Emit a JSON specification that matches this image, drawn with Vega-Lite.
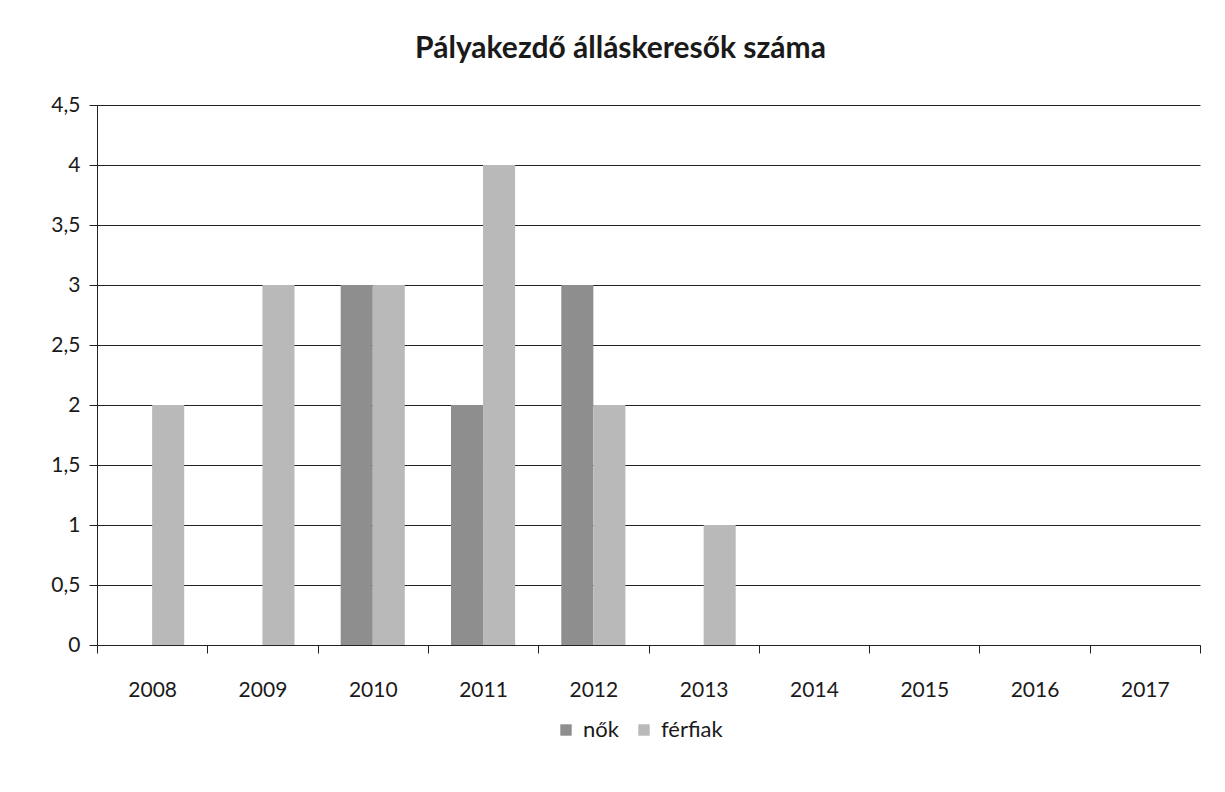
{
  "$schema": "https://vega.github.io/schema/vega-lite/v6.json",
  "autosize": {"type": "none"},
  "width": 1103,
  "height": 540,
  "padding": {"left": 97, "top": 105, "right": 25, "bottom": 147},
  "background": "white",
  "title": {
    "text": "Pályakezdő álláskeresők száma",
    "font": "Lato",
    "fontSize": 30,
    "fontWeight": "bold",
    "color": "#1a1a1a",
    "anchor": "middle",
    "dx": -28,
    "offset": 30
  },
  "data": {
    "values": [
      {"ev": "2008", "nem": "nők", "ertek": 0},
      {"ev": "2008", "nem": "férfiak", "ertek": 2},
      {"ev": "2009", "nem": "nők", "ertek": 0},
      {"ev": "2009", "nem": "férfiak", "ertek": 3},
      {"ev": "2010", "nem": "nők", "ertek": 3},
      {"ev": "2010", "nem": "férfiak", "ertek": 3},
      {"ev": "2011", "nem": "nők", "ertek": 2},
      {"ev": "2011", "nem": "férfiak", "ertek": 4},
      {"ev": "2012", "nem": "nők", "ertek": 3},
      {"ev": "2012", "nem": "férfiak", "ertek": 2},
      {"ev": "2013", "nem": "nők", "ertek": 0},
      {"ev": "2013", "nem": "férfiak", "ertek": 1},
      {"ev": "2014", "nem": "nők", "ertek": 0},
      {"ev": "2014", "nem": "férfiak", "ertek": 0},
      {"ev": "2015", "nem": "nők", "ertek": 0},
      {"ev": "2015", "nem": "férfiak", "ertek": 0},
      {"ev": "2016", "nem": "nők", "ertek": 0},
      {"ev": "2016", "nem": "férfiak", "ertek": 0},
      {"ev": "2017", "nem": "nők", "ertek": 0},
      {"ev": "2017", "nem": "férfiak", "ertek": 0}
    ]
  },
  "mark": {"type": "bar"},
  "encoding": {
    "x": {
      "field": "ev",
      "type": "nominal",
      "title": null,
      "scale": {"paddingInner": 0, "paddingOuter": 0},
      "axis": {
        "labelAngle": 0,
        "tickBand": "extent",
        "tickSize": 8,
        "labelPadding": 26,
        "labelFont": "Lato",
        "labelFontSize": 21,
        "labelColor": "#1a1a1a",
        "domainColor": "#222",
        "tickColor": "#222",
        "grid": false
      }
    },
    "xOffset": {
      "field": "nem",
      "type": "nominal",
      "sort": ["nők", "férfiak"],
      "scale": {"paddingInner": 0, "paddingOuter": 0.72}
    },
    "y": {
      "field": "ertek",
      "type": "quantitative",
      "title": null,
      "scale": {"domain": [0, 4.5]},
      "axis": {
        "values": [0, 0.5, 1, 1.5, 2, 2.5, 3, 3.5, 4, 4.5],
        "labelExpr": "replace(format(datum.value, '.1~f'), '.', ',')",
        "tickSize": 8,
        "labelPadding": 9,
        "labelFont": "Lato",
        "labelFontSize": 21,
        "labelColor": "#1a1a1a",
        "domainColor": "#222",
        "tickColor": "#222",
        "grid": true,
        "gridColor": "#222",
        "gridWidth": 1.2
      }
    },
    "color": {
      "field": "nem",
      "type": "nominal",
      "sort": ["nők", "férfiak"],
      "scale": {"domain": ["nők", "férfiak"], "range": ["#8e8e8e", "#b9b9b9"]},
      "legend": {
        "title": null,
        "orient": "none",
        "legendX": 458,
        "legendY": 614,
        "direction": "horizontal",
        "symbolType": "square",
        "symbolSize": 130,
        "symbolStrokeWidth": 0,
        "labelFont": "Lato",
        "labelFontSize": 22,
        "labelColor": "#1a1a1a",
        "labelOffset": 6,
        "columnPadding": 14
      }
    }
  },
  "config": {
    "view": {"stroke": null}
  }
}
